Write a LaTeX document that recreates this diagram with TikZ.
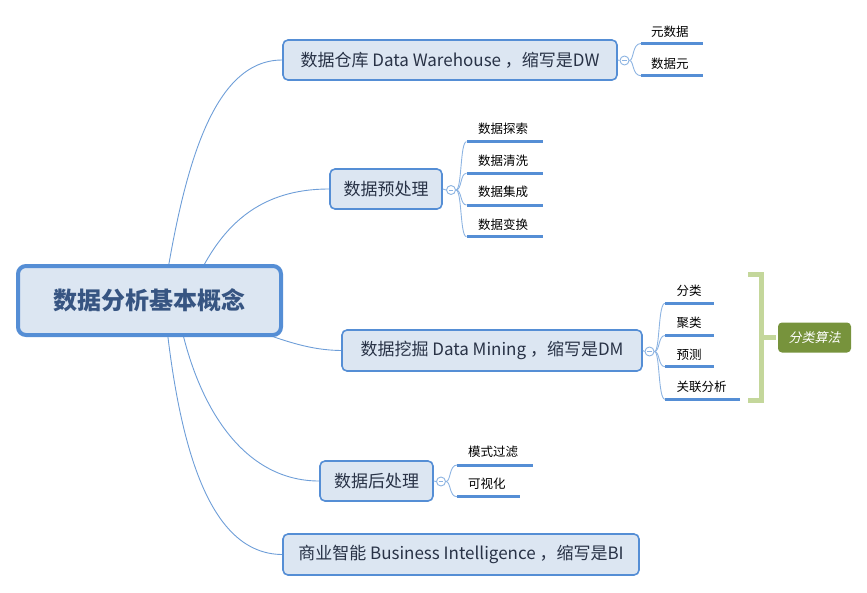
\documentclass[tikz,border=0pt]{standalone}
\usepackage{fontspec}
\setmainfont{Noto Sans CJK SC}
\newfontfamily\cjkit{Noto Sans CJK SC}[FakeSlant=0.2]
\usetikzlibrary{backgrounds}
\definecolor{boxfill}{RGB}{220,230,242}
\definecolor{boxline}{RGB}{85,142,213}
\definecolor{conncol}{RGB}{110,158,216}
\definecolor{leafconn}{RGB}{141,180,226}
\definecolor{roottext}{RGB}{55,85,130}
\definecolor{branchtext}{RGB}{40,50,70}
\definecolor{brackcol}{RGB}{196,215,155}
\definecolor{labelfill}{RGB}{119,147,60}
\tikzset{
  rootbox/.style={draw=boxline, line width=4pt, fill=boxfill, rounded corners=8pt,
    inner sep=0pt, text=roottext, font=\fontsize{24}{28}\selectfont\bfseries},
  branchbox/.style={draw=boxline, line width=1.6pt, fill=boxfill, rounded corners=5pt,
    inner sep=0pt, minimum height=40pt, text=branchtext, font=\fontsize{17}{20}\selectfont},
  conn/.style={draw=conncol, line width=0.9pt},
  lconn/.style={draw=leafconn, line width=0.9pt},
  uline/.style={draw=boxline, line width=3pt},
  leaf/.style={anchor=west, inner sep=0pt, font=\fontsize{12.5}{15}\selectfont, text=black},
  collapse/.style={circle, draw=leafconn, fill=white, line width=0.9pt, minimum size=9pt, inner sep=0pt,
    path picture={\draw[leafconn, line width=0.8pt] ([xshift=-2.3pt]path picture bounding box.center) -- ([xshift=2.3pt]path picture bounding box.center);}},
  brack/.style={draw=brackcol, line width=5pt},
  labelbox/.style={fill=labelfill, rounded corners=4pt, text=white, inner sep=0pt,
    font=\cjkit\fontsize{13}{16}\selectfont},
}
\begin{document}
\begin{tikzpicture}[x=1pt, y=-1pt]
\useasboundingbox (0,0) rectangle (867,592);

% root
\node[rootbox, minimum width=263pt, minimum height=69pt] (root) at (149.5,300.5) {数据分析基本概念};

% branches
\node[branchbox, minimum width=334pt] (b1) at (450,60) {数据仓库 Data Warehouse ，缩写是DW};
\node[branchbox, minimum width=112pt] (b2) at (386,189) {数据预处理};
\node[branchbox, minimum width=300pt, minimum height=41pt] (b3) at (492,350.5) {数据挖掘 Data Mining ，缩写是DM};
\node[branchbox, minimum width=113pt] (b4) at (376.5,481) {数据后处理};
\node[branchbox, minimum width=356pt, minimum height=41pt] (b5) at (461,554.5) {商业智能 Business Intelligence ，缩写是BI};

% connectors root -> branches (behind)
\begin{pgfonlayer}{background}
\coordinate (s1) at (163,300);
\coordinate (s2) at (188,300);
\coordinate (s3) at (200,310);
\coordinate (s4) at (176,300);
\coordinate (s5) at (164,300);
\draw[conn] (s1) .. controls (183,170) and (212,60) .. (b1.west);
\draw[conn] (s2) .. controls (215,230) and (255,189) .. (b2.west);
\draw[conn] (s3) .. controls (270,335) and (300,350) .. (b3.west);
\draw[conn] (s4) .. controls (192,400) and (240,481) .. (b4.west);
\draw[conn] (s5) .. controls (178,450) and (210,554) .. (b5.west);
\end{pgfonlayer}

% ---- branch 1 leaves
\node[collapse] (c1) at (624.5,60.5) {};
\coordinate (u11a) at (641,43.5); \coordinate (u11b) at (702.5,43.5);
\coordinate (u12a) at (641,75.7); \coordinate (u12b) at (702.5,75.7);
\node[leaf] (l11) at (651,31.5) {元数据};
\node[leaf] (l12) at (651,63.3) {数据元};
\draw[lconn] (b1.east) -- (c1.west);
\draw[lconn] (c1.east) .. controls (634,60.5) and (632,43.5) .. (u11a);
\draw[lconn] (c1.east) .. controls (634,60.5) and (632,75.7) .. (u12a);
\draw[uline] (u11a) -- (u11b);
\draw[uline] (u12a) -- (u12b);

% ---- branch 2 leaves
\node[collapse] (c2) at (451,190) {};
\coordinate (u21a) at (466.5,141.7); \coordinate (u21b) at (542.5,141.7);
\coordinate (u22a) at (466.5,173.3); \coordinate (u22b) at (542.5,173.3);
\coordinate (u23a) at (466.5,205);   \coordinate (u23b) at (542.5,205);
\coordinate (u24a) at (466.5,236.7); \coordinate (u24b) at (542.5,236.7);
\node[leaf] (l21) at (478,128.3) {数据探索};
\node[leaf] (l22) at (478,160.5) {数据清洗};
\node[leaf] (l23) at (478,191.8) {数据集成};
\node[leaf] (l24) at (478,224.5) {数据变换};
\draw[lconn] (b2.east) -- (c2.west);
\draw[lconn] (c2.east) .. controls (462,190) and (460,141.7) .. (u21a);
\draw[lconn] (c2.east) .. controls (462,190) and (460,173.3) .. (u22a);
\draw[lconn] (c2.east) .. controls (462,190) and (460,205) .. (u23a);
\draw[lconn] (c2.east) .. controls (462,190) and (460,236.7) .. (u24a);
\draw[uline] (u21a) -- (u21b);
\draw[uline] (u22a) -- (u22b);
\draw[uline] (u23a) -- (u23b);
\draw[uline] (u24a) -- (u24b);

% ---- branch 3 leaves
\node[collapse] (c3) at (649.5,351.5) {};
\coordinate (u31a) at (665,303.3); \coordinate (u31b) at (714,303.3);
\coordinate (u32a) at (665,335.5); \coordinate (u32b) at (714,335.5);
\coordinate (u33a) at (665,366.7); \coordinate (u33b) at (714,366.7);
\coordinate (u34a) at (665,399.3); \coordinate (u34b) at (740,399.3);
\node[leaf] (l31) at (676.5,290.5) {分类};
\node[leaf] (l32) at (676.5,322.5) {聚类};
\node[leaf] (l33) at (676.5,354.5) {预测};
\node[leaf] (l34) at (676.5,386.5) {关联分析};
\draw[lconn] (b3.east) -- (c3.west);
\draw[lconn] (c3.east) .. controls (660,351.5) and (658,303.3) .. (u31a);
\draw[lconn] (c3.east) .. controls (660,351.5) and (658,335.5) .. (u32a);
\draw[lconn] (c3.east) .. controls (660,351.5) and (658,366.7) .. (u33a);
\draw[lconn] (c3.east) .. controls (660,351.5) and (658,399.3) .. (u34a);
\draw[uline] (u31a) -- (u31b);
\draw[uline] (u32a) -- (u32b);
\draw[uline] (u33a) -- (u33b);
\draw[uline] (u34a) -- (u34b);

% bracket + summary label
\coordinate (bt0) at (748,274.5); \coordinate (bt1) at (761.5,274.5);
\coordinate (bb0) at (748,400.5); \coordinate (bb1) at (761.5,400.5);
\coordinate (bm0) at (761.5,337); \coordinate (bm1) at (776,337);
\draw[brack] (bt0) -- (bt1) -- (bb1) -- (bb0);
\draw[brack] (bm0) -- (bm1);
\node[labelbox, minimum width=73pt, minimum height=30pt] (sum) at (814.5,337.5) {分类算法};

% ---- branch 4 leaves
\node[collapse] (c4) at (441,481.5) {};
\coordinate (u41a) at (457,465); \coordinate (u41b) at (532.5,465);
\coordinate (u42a) at (457,496.7); \coordinate (u42b) at (519.5,496.7);
\node[leaf] (l41) at (468,451.7) {模式过滤};
\node[leaf] (l42) at (468,483.5) {可视化};
\draw[lconn] (b4.east) -- (c4.west);
\draw[lconn] (c4.east) .. controls (451,481.5) and (449,465) .. (u41a);
\draw[lconn] (c4.east) .. controls (451,481.5) and (449,496.7) .. (u42a);
\draw[uline] (u41a) -- (u41b);
\draw[uline] (u42a) -- (u42b);
\end{tikzpicture}
\end{document}
